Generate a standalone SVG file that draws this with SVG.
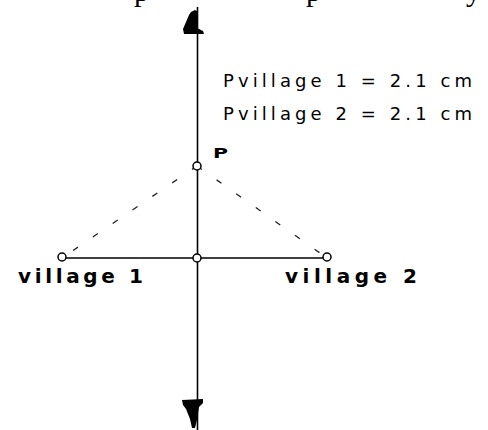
<svg xmlns="http://www.w3.org/2000/svg" width="488" height="430" viewBox="0 0 488 430">
<style>
.axis{stroke:#000;stroke-width:1.6;fill:none}
.seg{stroke:#000;stroke-width:1.5;fill:none}
.dash{stroke:#222;stroke-width:1.3;fill:none;stroke-dasharray:6 18}
.pt{fill:#fff;stroke:#000;stroke-width:1.5}
.head{fill:#000;stroke:none}
.lbl{font-family:"DejaVu Sans",sans-serif;font-weight:bold;font-size:20px;fill:#000}
.meas{font-family:"DejaVu Sans",sans-serif;font-size:18px;fill:#000}
.cap{font-family:"Liberation Serif",serif;font-size:30px;fill:#000}
</style>
<g id="caption-fragment">
<text class="cap" x="134" y="1">p</text>
<text class="cap" x="306" y="1">p</text>
<text class="cap" x="466" y="1">y</text>
</g>
<g id="connectors">
<line class="axis" x1="197.5" y1="7" x2="197.5" y2="430"/>
<polygon class="head" points="191,12 195,10 197,11 197,28 203,31 204,34 184,34 183,29 186,22 189,15"/>
<polygon class="head" points="182,400 203,399 203,403 199,407 197,420 195,428 192,428 190,419 186,409 183,405"/>
<line class="seg" x1="62" y1="258" x2="327" y2="258"/>
<line class="dash" x1="197" y1="166" x2="62" y2="258"/>
<line class="dash" x1="197" y1="166" x2="327" y2="258"/>
</g>
<g id="point-P">
<circle class="pt" cx="197" cy="166" r="4"/>
<text x="213" y="158" font-family="DejaVu Sans,sans-serif" font-weight="bold" font-size="14" textLength="15" lengthAdjust="spacingAndGlyphs">P</text>
</g>
<g id="midpoint">
<circle class="pt" cx="197" cy="258" r="4"/>
</g>
<g id="village-1">
<circle class="pt" cx="62" cy="257" r="4"/>
<text class="lbl" x="18" y="283" textLength="125" lengthAdjust="spacing">village 1</text>
</g>
<g id="village-2">
<circle class="pt" cx="327" cy="257" r="4"/>
<text class="lbl" x="285" y="283" textLength="132" lengthAdjust="spacing">village 2</text>
</g>
<g id="measurements">
<text class="meas" x="223" y="87" textLength="249" lengthAdjust="spacing">Pvillage 1 = 2.1 cm</text>
<text class="meas" x="223" y="120" textLength="249" lengthAdjust="spacing">Pvillage 2 = 2.1 cm</text>
</g>
</svg>
